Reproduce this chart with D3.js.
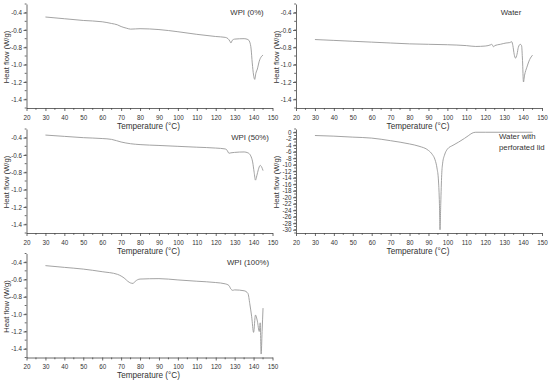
<!DOCTYPE html>
<html>
<head>
<meta charset="utf-8">
<script src="https://cdn.jsdelivr.net/npm/d3@7"></script>
<style>
  body { margin: 0; background: #fff; }
  text { font-family: "Liberation Sans", Arial, sans-serif; fill: #333; }
</style>
</head>
<body>
<script>
// temperature (°C) and heat flow (W/g)
var wpi0T = [30, 40, 50, 60, 65, 68, 70, 73, 75, 80, 90, 100, 110, 120, 125, 126.5, 127.5, 128, 128.7, 130, 135, 137, 138, 138.7, 139.3, 140, 140.6, 141.2, 142, 143, 144, 145];
var wpi0Y = [-0.45, -0.47, -0.49, -0.505, -0.525, -0.54, -0.56, -0.58, -0.59, -0.585, -0.595, -0.62, -0.65, -0.675, -0.685, -0.70, -0.73, -0.75, -0.72, -0.705, -0.70, -0.71, -0.74, -0.82, -0.98, -1.12, -1.17, -1.10, -1.05, -0.96, -0.91, -0.89];

var waterT = [30, 40, 50, 60, 70, 80, 90, 100, 110, 115, 120, 123, 123.5, 124.4, 125, 128, 131, 133, 134, 134.6, 135.3, 136, 136.8, 137.5, 138.5, 139.2, 139.7, 140.2, 140.8, 142, 143.5, 145];
var waterY = [-0.71, -0.72, -0.73, -0.74, -0.75, -0.76, -0.765, -0.77, -0.78, -0.79, -0.785, -0.77, -0.765, -0.795, -0.78, -0.765, -0.75, -0.745, -0.735, -0.78, -0.88, -0.925, -0.88, -0.80, -0.765, -0.78, -0.95, -1.20, -1.12, -1.03, -0.94, -0.89];

var wpi50T = [30, 40, 50, 60, 65, 70, 75, 80, 90, 100, 110, 120, 125, 126, 127, 128, 130, 135, 137, 138.5, 139.5, 140.3, 141, 141.7, 142.5, 143.5, 144.3, 145];
var wpi50Y = [-0.37, -0.385, -0.40, -0.41, -0.42, -0.45, -0.47, -0.48, -0.49, -0.50, -0.51, -0.52, -0.53, -0.545, -0.58, -0.575, -0.57, -0.565, -0.575, -0.61, -0.68, -0.80, -0.89, -0.84, -0.77, -0.72, -0.74, -0.78];

var lidT = [30, 40, 50, 60, 70, 80, 85, 90, 92, 93.5, 94.5, 95.3, 95.8, 96.1, 96.5, 97, 97.5, 98.5, 100, 103, 106, 109, 111, 113, 115, 120, 130, 145];
var lidY = [-1.0, -1.2, -1.5, -1.8, -2.6, -3.6, -4.3, -5.6, -6.8, -8.5, -11, -15, -22, -30, -22, -13, -9.5, -7, -5.2, -4.0, -3.0, -1.9, -1.1, -0.3, 0, 0, 0, 0];

var wpi100T = [30, 40, 50, 60, 68, 70, 72, 73.5, 75, 76.3, 77.5, 80, 90, 100, 110, 120, 125, 127, 128, 129, 130, 135, 137, 138, 139, 140, 141, 142, 143, 143.5, 144, 144.5, 145];
var wpi100Y = [-0.44, -0.46, -0.48, -0.51, -0.54, -0.56, -0.59, -0.62, -0.64, -0.645, -0.62, -0.595, -0.59, -0.605, -0.62, -0.635, -0.65, -0.67, -0.71, -0.725, -0.72, -0.73, -0.76, -0.88, -1.03, -1.21, -1.01, -1.08, -1.20, -1.10, -1.46, -1.20, -0.93];

var xTicks = d3.range(20, 151, 10);

var panels = [
  { name: ['WPI (0%)'], T: wpi0T, Y: wpi0Y, col: 0, row: 0, yDom: [-1.5, -0.3], yTicks: d3.range(-1.4, -0.3, 0.2), minor: 0.1, lab: [247, 15], anchor: 'middle' },
  { name: ['Water'], T: waterT, Y: waterY, col: 1, row: 0, yDom: [-1.5, -0.3], yTicks: d3.range(-1.4, -0.3, 0.2), minor: 0.1, lab: [511, 15], anchor: 'middle' },
  { name: ['WPI (50%)'], T: wpi50T, Y: wpi50Y, col: 0, row: 1, yDom: [-1.5, -0.3], yTicks: d3.range(-1.4, -0.3, 0.2), minor: 0.1, lab: [250, 140], anchor: 'middle' },
  { name: ['Water with', 'perforated lid'], T: lidT, Y: lidY, col: 1, row: 1, yDom: [-31, 1], yTicks: d3.range(-30, 1, 2), minor: 1, lab: [499, 139], anchor: 'start' },
  { name: ['WPI (100%)'], T: wpi100T, Y: wpi100Y, col: 0, row: 2, yDom: [-1.5, -0.3], yTicks: d3.range(-1.4, -0.3, 0.2), minor: 0.1, lab: [248, 265], anchor: 'middle' }
];

var width = 550, height = 381;
var colX = [26.5, 296], plotW = 246;
var rowBottom = [108, 233, 357.5], plotH = 104;

var svg = d3.select('body').append('svg')
  .attr('width', width)
  .attr('height', height);

var axisColor = '#444';

panels.forEach(function(p) {
  var x0 = colX[p.col], y1 = rowBottom[p.row], y0 = y1 - plotH;

  var x = d3.scaleLinear().domain([20, 150]).range([x0, x0 + plotW]);
  var y = d3.scaleLinear().domain(p.yDom).range([y1, y0]);

  var g = svg.append('g');

  // x axis
  var xa = g.append('g').attr('transform', 'translate(0,' + y1 + ')');
  xa.call(d3.axisBottom(x).tickValues(xTicks).tickSize(3).tickSizeOuter(0).tickFormat(d3.format('d')));
  xa.append('g').selectAll('line')
    .data(d3.range(25, 150, 10))
    .enter().append('line')
      .attr('x1', function(d) { return x(d); })
      .attr('x2', function(d) { return x(d); })
      .attr('y1', 0).attr('y2', 1.8);

  // y axis
  var fmt = p.minor === 1 ? function(d) { return String(Math.round(d)); } : function(d) { return d.toFixed(1); };
  var ya = g.append('g').attr('transform', 'translate(' + x0 + ',0)');
  ya.call(d3.axisLeft(y).tickValues(p.yTicks).tickSize(3).tickSizeOuter(0).tickFormat(fmt));
  var minorVals = d3.range(Math.round((p.yDom[0]) / p.minor), Math.round(p.yDom[1] / p.minor) + 1)
    .map(function(k) { return k * p.minor; });
  ya.append('g').selectAll('line')
    .data(minorVals)
    .enter().append('line')
      .attr('x1', 0).attr('x2', -1.8)
      .attr('y1', function(d) { return y(d); })
      .attr('y2', function(d) { return y(d); });

  [xa, ya].forEach(function(a) {
    a.selectAll('path, line').attr('stroke', axisColor).attr('stroke-width', 0.8);
    a.selectAll('text')
      .style('font-size', '6.3px')
      .attr('fill', '#333')
      .style('font-family', '"Liberation Sans", Arial, sans-serif');
  });
  xa.selectAll('.tick text').attr('dy', '0.9em');
  ya.selectAll('.tick text').attr('x', -4.5);

  // titles
  g.append('text')
    .attr('x', x0 + plotW / 2 - 1)
    .attr('y', y1 + 20.5)
    .attr('text-anchor', 'middle')
    .style('font-size', '8.2px')
    .text('Temperature (°C)');

  g.append('text')
    .attr('transform', 'translate(' + (x0 - 17.5) + ',' + (y0 + plotH / 2 + 1) + ') rotate(-90)')
    .attr('text-anchor', 'middle')
    .style('font-size', '7.6px')
    .text('Heat flow (W/g)');

  var lab = g.append('text')
    .attr('x', p.lab[0])
    .attr('y', p.lab[1])
    .attr('text-anchor', p.anchor)
    .style('font-size', '7.8px');
  p.name.forEach(function(s, i) {
    lab.append('tspan')
      .attr('x', p.lab[0])
      .attr('dy', i === 0 ? 0 : '1.35em')
      .text(s);
  });

  // curve
  var pts = p.T.map(function(t, i) { return [t, p.Y[i]]; });
  g.append('path')
    .datum(pts)
    .attr('fill', 'none')
    .attr('stroke', '#999')
    .attr('stroke-width', 0.9)
    .attr('d', d3.line()
      .x(function(d) { return x(d[0]); })
      .y(function(d) { return y(d[1]); })
      .curve(d3.curveMonotoneX));
});
</script>
</body>
</html>
